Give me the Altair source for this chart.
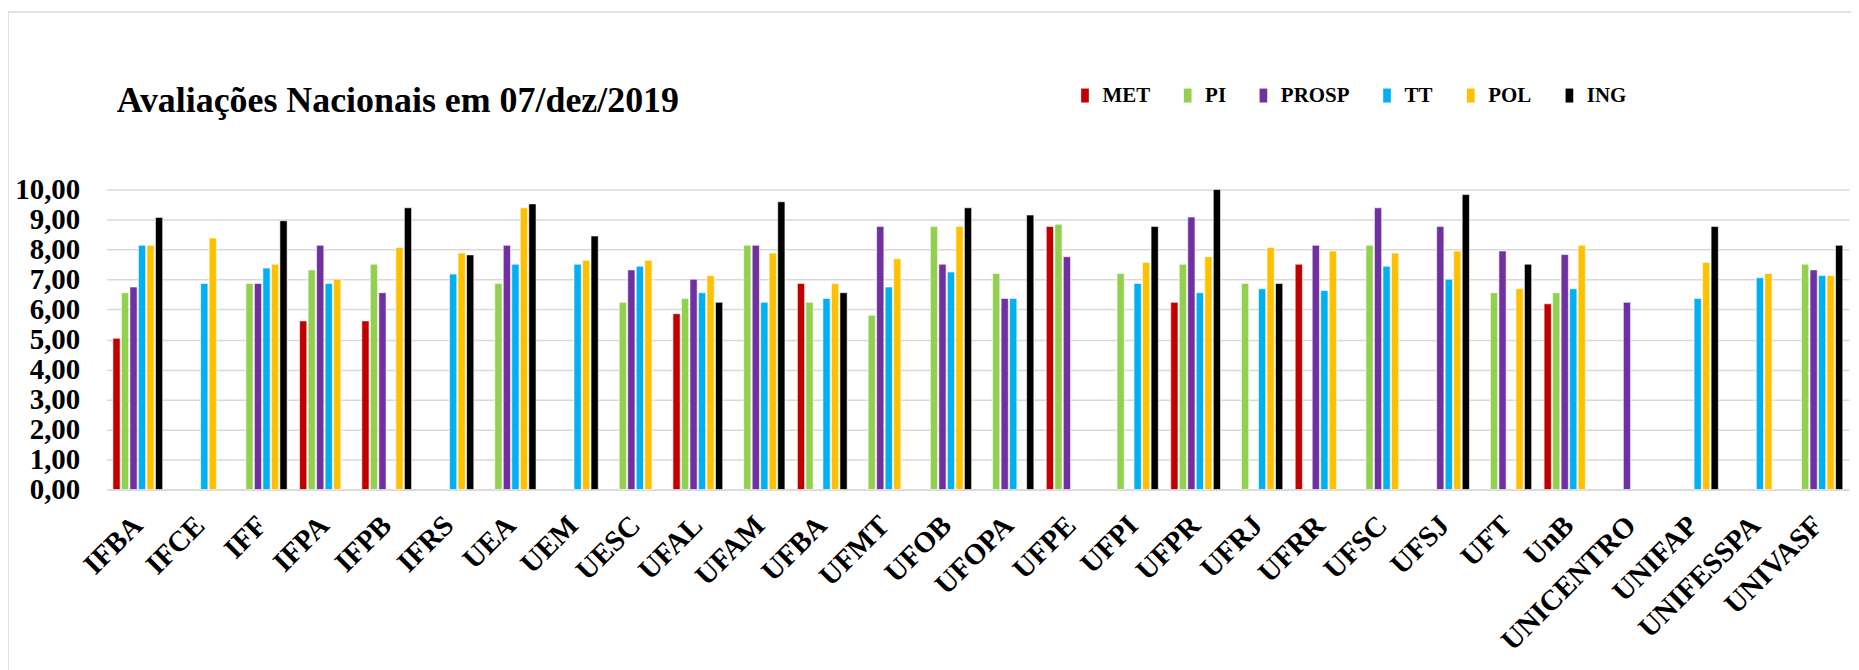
import altair as alt
import pandas as pd

categories = ["IFBA", "IFCE", "IFF", "IFPA", "IFPB", "IFRS", "UEA", "UEM", "UESC", "UFAL",
              "UFAM", "UFBA", "UFMT", "UFOB", "UFOPA", "UFPE", "UFPI", "UFPR", "UFRJ", "UFRR",
              "UFSC", "UFSJ", "UFT", "UnB", "UNICENTRO", "UNIFAP", "UNIFESSPA", "UNIVASF"]
series = ["MET", "PI", "PROSP", "TT", "POL", "ING"]
colors = ["#C00000", "#92D050", "#7030A0", "#00B0F0", "#FFC000", "#000000"]
title_text = "Avaliações Nacionais em 07/dez/2019"

met = [5.04, None, None, 5.62, 5.62, None, None, None, None, 5.86,
       None, 6.87, None, None, None, 8.77, None, 6.24, None, 7.51,
       None, None, None, 6.19, None, None, None, None]
pi = [6.56, None, 6.87, 7.32, 7.51, None, 6.87, None, 6.24, 6.37,
      8.14, 6.24, 5.81, 8.77, 7.20, 8.84, 7.20, 7.51, 6.87, None,
      8.14, None, 6.56, 6.56, None, None, None, 7.51]
prosp = [6.75, None, 6.87, 8.14, 6.56, None, 8.14, None, 7.32, 7.01,
         8.14, None, 8.77, 7.51, 6.37, 7.76, None, 9.08, None, 8.14,
         9.39, 8.77, 7.95, 7.83, 6.24, None, None, 7.32]
tt = [8.14, 6.87, 7.38, 6.87, None, 7.18, 7.51, 7.51, 7.44, 6.56,
      6.24, 6.37, 6.75, 7.25, 6.37, None, 6.87, 6.56, 6.69, 6.63,
      7.44, 7.01, None, 6.69, None, 6.37, 7.06, 7.13]
pol = [8.14, 8.38, 7.51, 7.01, 8.07, 7.88, 9.39, 7.64, 7.64, 7.13,
       7.88, 6.87, 7.69, 8.77, None, None, 7.57, 7.76, 8.07, 7.95,
       7.88, 7.95, 6.69, 8.14, None, 7.57, 7.20, 7.13]
ing = [9.07, None, 8.96, None, 9.39, 7.82, 9.52, 8.45, None, 6.24,
       9.59, 6.56, None, 9.39, 9.15, None, 8.77, 10.00, 6.87, None,
       None, 9.83, 7.51, None, None, 8.77, None, 8.14]

rows = []
for s, vals in zip(series, [met, pi, prosp, tt, pol, ing]):
    for c, v in zip(categories, vals):
        if v is not None:
            rows.append({"Instituição": c, "Série": s, "Nota": v})
df = pd.DataFrame(rows)

W, H = 1748, 301
FONT = "Liberation Serif"
GRID = "#d9d9d9"

bars = alt.Chart(df).mark_bar(stroke="white", strokeWidth=0.6).encode(
    x=alt.X("Instituição:N", sort=categories,
            scale=alt.Scale(domain=categories, paddingInner=0.2, paddingOuter=0.1),
            axis=alt.Axis(title=None, labelAngle=315, labelAlign="right", labelBaseline="middle",
                          labelFont=FONT, labelFontSize=29, labelFontWeight="bold",
                          labelColor="black", labelPadding=31, ticks=False, tickSize=0,
                          domainColor=GRID, domainWidth=1.5, grid=False, labelOverlap=False)),
    xOffset=alt.XOffset("Série:N", sort=series,
                        scale=alt.Scale(domain=series, paddingInner=0.15)),
    y=alt.Y("Nota:Q", scale=alt.Scale(domain=[0, 10], nice=False),
            axis=alt.Axis(title=None, values=list(range(11)),
                          labelExpr="replace(format(datum.value, '.2f'), '.', ',')",
                          labelFont=FONT, labelFontSize=29, labelFontWeight="bold",
                          labelColor="black", labelPadding=27, ticks=False, tickSize=0,
                          domain=False, grid=True, gridColor=GRID, gridWidth=1.5)),
    color=alt.Color("Série:N", sort=series,
                    scale=alt.Scale(domain=series, range=colors),
                    legend=alt.Legend(title=None, orient="none", direction="horizontal",
                                      legendX=971, legendY=-105,
                                      symbolType="M-0.55,-1H0.55V1H-0.55Z",
                                      symbolSize=196, symbolStrokeWidth=0, symbolOpacity=1,
                                      labelFont=FONT, labelFontSize=21, labelFontWeight="bold",
                                      labelColor="black", labelOffset=7, columnPadding=27)),
)

one = pd.DataFrame({"k": [0]})
frame_left = alt.Chart(one).mark_rule(color=GRID, strokeWidth=1.5).encode(
    x=alt.value(-99), y=alt.value(-178), y2=alt.value(H + 200))
frame_top = alt.Chart(one).mark_rule(color=GRID, strokeWidth=1.5).encode(
    x=alt.value(-99), x2=alt.value(W + 20), y=alt.value(-178))
title = alt.Chart(one).mark_text(align="left", baseline="alphabetic", font=FONT, fontSize=36,
                                 fontWeight="bold", color="black").encode(
    x=alt.value(10), y=alt.value(-78), text=alt.value(title_text))

chart = alt.layer(bars, frame_left, frame_top, title).properties(
    width=W, height=H,
    autosize=alt.AutoSizeParams(type="none"),
    padding={"left": 99, "top": 181, "right": 2, "bottom": 180},
).configure_view(stroke=None)

chart.save("out.html", embed_options={"renderer": "svg", "actions": False})
